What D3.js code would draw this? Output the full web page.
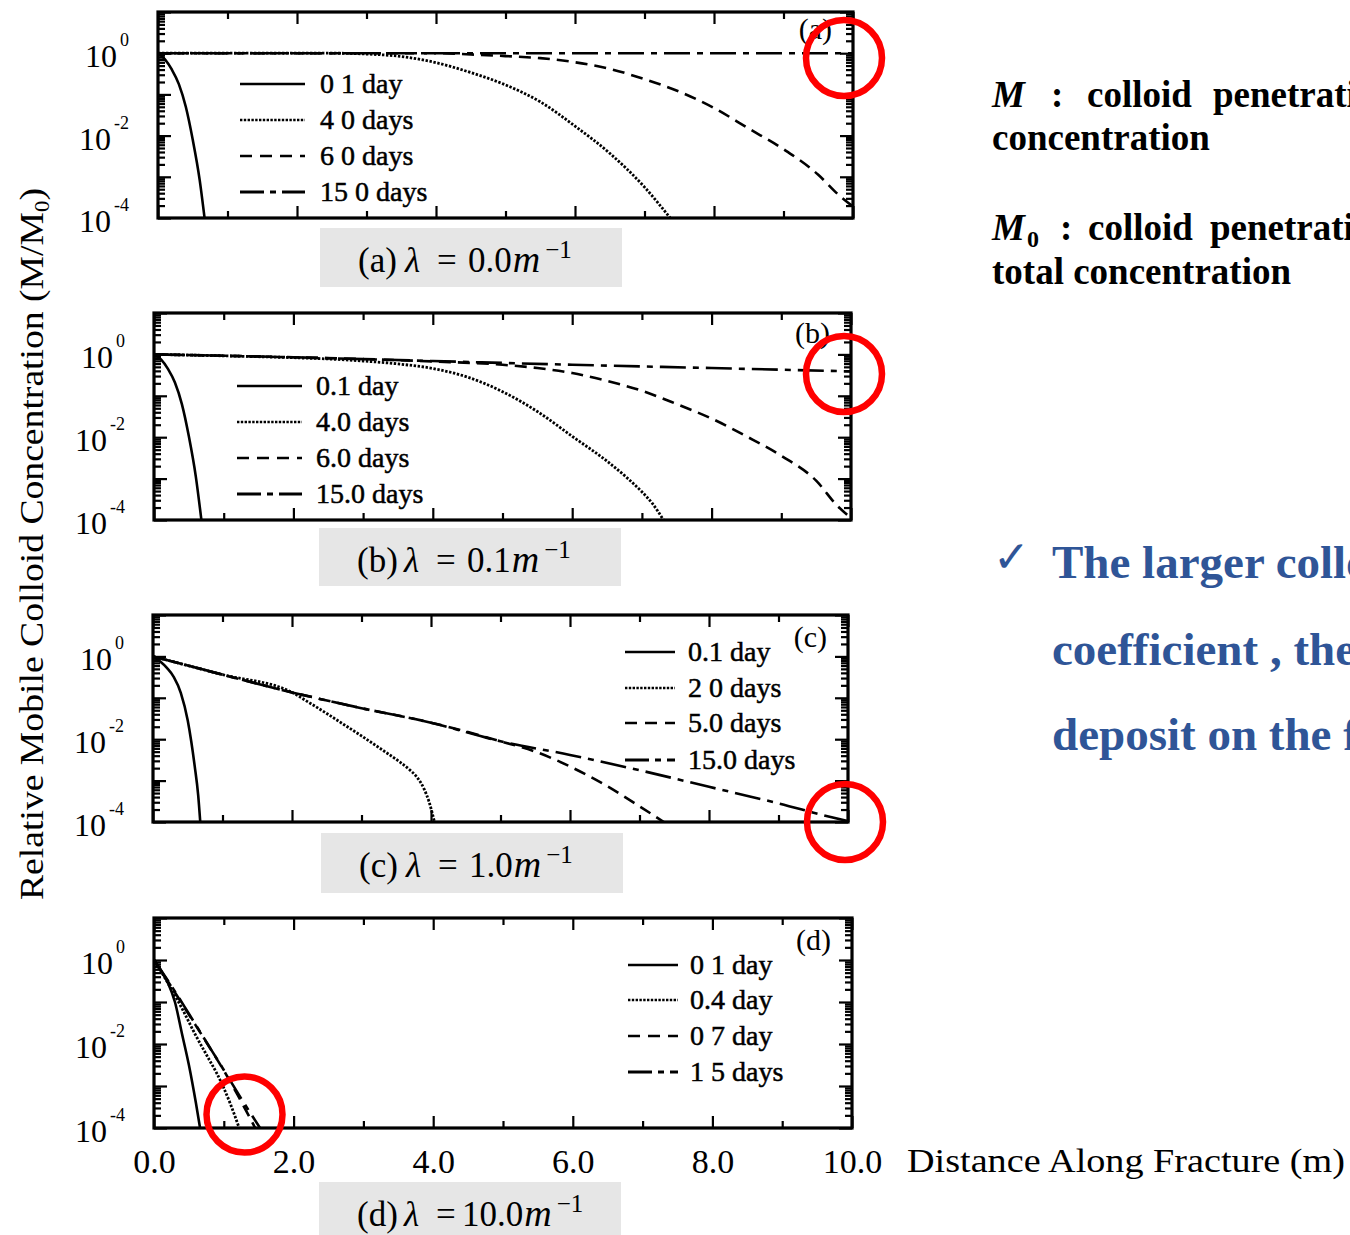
<!DOCTYPE html>
<html>
<head>
<meta charset="utf-8">
<script src="https://cdn.jsdelivr.net/npm/d3@7"></script>
<style>
  body { margin: 0; background: #fff; }
  svg { display: block; font-family: "Liberation Serif", "Times New Roman", serif; }
</style>
</head>
<body>
<svg id="fig" width="1350" height="1235"></svg>
<script>
// ---- data: relative mobile colloid concentration M/M0 vs distance along fracture (m) ----
const lambdaValues = ["0.0", "0.1", "1.0", "10.0"];
const panelLetters = ["a", "b", "c", "d"];

const legendA = ["0 1 day", "4 0 days", "6 0 days", "15 0 days"];
const legendB = ["0.1 day", "4.0 days", "6.0 days", "15.0 days"];
const legendC = ["0.1 day", "2 0 days", "5.0 days", "15.0 days"];
const legendD = ["0 1 day", "0.4 day", "0 7 day", "1 5 days"];

// lambda = 0.0 m^-1
const a_day01 = [[0,1],[0.1,0.708],[0.2,0.398],[0.3,0.178],[0.4,0.0501],[0.5,0.00794],[0.6,0.000832],[0.67,0.0001]];
const a_day40 = [[0,1],[2.5,1],[3,0.955],[3.5,0.832],[4,0.589],[4.5,0.339],[5,0.170],[5.5,0.0661],[6,0.0170],[6.5,0.00372],[7,0.000562],[7.37,0.0001]];
const a_day60 = [[0,1],[4,1],[4.5,0.933],[5,0.851],[5.5,0.759],[6,0.603],[6.5,0.417],[7,0.234],[7.5,0.117],[8,0.0468],[8.5,0.0148],[9,0.00468],[9.5,0.00112],[9.8,0.000355],[10,0.00019]];
const a_day150 = [[0,1],[10,1]];

// lambda = 0.1 m^-1
const b_day01 = [[0,1],[0.1,0.759],[0.2,0.447],[0.3,0.209],[0.4,0.0631],[0.5,0.0105],[0.6,0.00112],[0.68,0.0001]];
const b_day40 = [[0,1],[1,0.923],[2,0.832],[2.5,0.776],[3,0.692],[3.5,0.589],[4,0.457],[4.5,0.282],[5,0.126],[5.5,0.0417],[6,0.0105],[6.5,0.00263],[6.8,0.001],[7,0.000479],[7.15,0.000251],[7.31,0.0001]];
const b_day60 = [[0,1],[2,0.851],[4,0.676],[5,0.562],[5.5,0.468],[6,0.355],[6.5,0.229],[7,0.132],[7.5,0.0631],[8,0.0282],[8.5,0.0105],[9,0.00355],[9.5,0.000891],[9.8,0.000224],[10,0.000112]];
const b_day150 = [[0,1],[2,0.851],[4,0.692],[6,0.562],[8,0.468],[10,0.389]];

// lambda = 1.0 m^-1
const c_day01 = [[0,1],[0.1,0.759],[0.2,0.525],[0.3,0.316],[0.4,0.132],[0.5,0.0282],[0.55,0.00891],[0.6,0.00224],[0.65,0.000447],[0.68,0.0001]];
const c_day20 = [[0,1],[1,0.363],[2,0.135],[2.25,0.0759],[2.5,0.0417],[2.75,0.0224],[3,0.0120],[3.3,0.00550],[3.55,0.00282],[3.7,0.00178],[3.8,0.0012],[3.9,0.000631],[3.97,0.000316],[4.05,0.0001]];
const c_day50 = [[0,1],[1,0.363],[2,0.135],[3,0.0562],[4,0.0251],[5,0.00891],[5.5,0.00501],[6,0.00219],[6.5,0.000794],[7,0.00024],[7.35,0.0001]];
const c_day150 = [[0,1],[1,0.363],[2,0.135],[3,0.0562],[4,0.0251],[5,0.00891],[6,0.00417],[7,0.00178],[8,0.000708],[9,0.000282],[9.75,0.000132],[10,0.000105]];

// lambda = 10.0 m^-1
const d_day01 = [[0,1],[0.1,0.562],[0.2,0.282],[0.3,0.1],[0.4,0.0178],[0.5,0.00316],[0.6,0.000398],[0.66,0.0001]];
const d_day04 = [[0,1],[0.2,0.282],[0.4,0.0708],[0.6,0.0158],[0.8,0.00398],[0.9,0.002],[1.0,0.000891],[1.1,0.000355],[1.22,0.0001]];
const d_day07 = [[0,1],[0.25,0.229],[0.5,0.0501],[0.75,0.011],[1.0,0.00234],[1.2,0.000603],[1.45,0.0001]];
const d_day15 = [[0,1],[0.25,0.24],[0.5,0.0525],[0.75,0.0112],[1.0,0.0024],[1.25,0.000501],[1.52,0.0001]];

const xTickValues = [0,1,2,3,4,5,6,7,8,9,10];
const xLabelValues = [0,2,4,6,8,10];
const yLabelValues = [1, 1e-2, 1e-4];
const yLabelExps = ["0", "-2", "-4"];

// ---- layout ----
const panelBoxes = [
  { left: 158, right: 853, top: 12,  bottom: 218, legX: 240, legLen: 65, legTextX: 320, legY: [84,120,156,192],   letterY: 39,   capX: 320, capY: 228,  capH: 59, valX: 148 },
  { left: 154, right: 851, top: 313, bottom: 520, legX: 237, legLen: 65, legTextX: 316, legY: [386,422,458,494], letterY: 343,  capX: 319, capY: 528,  capH: 58, valX: 148 },
  { left: 153, right: 848, top: 615, bottom: 822, legX: 625, legLen: 50, legTextX: 688, legY: [652,688,723,760], letterY: 647,  capX: 321, capY: 833,  capH: 60, valX: 148 },
  { left: 154, right: 852, top: 918, bottom: 1128, legX: 628, legLen: 50, legTextX: 690, legY: [965,1000,1036,1072], letterY: 950, capX: 319, capY: 1182, capH: 53, valX: 143 }
];
const panelSeries = [
  [a_day01, a_day40, a_day60, a_day150],
  [b_day01, b_day40, b_day60, b_day150],
  [c_day01, c_day20, c_day50, c_day150],
  [d_day01, d_day04, d_day07, d_day15]
];
const panelLegends = [legendA, legendB, legendC, legendD];

// stroke patterns: solid, dotted, dashed, dash-dot
const lineDash = [null, "2.4,1.6", "12,7", "26,7,6,7"];
const legendDash = [null, "2.4,1.4", "12,8", "24,6,6,6"];
const lineWidth = [2.6, 2.8, 2.6, 2.6];

const svg = d3.select("#fig");
const defs = svg.append("defs");

// log-scale minor tick positions between 1e-4 and 1e1
const minorTicks = [];
for (let e = -4; e <= 0; e++) for (let k = 2; k <= 9; k++) minorTicks.push(k * Math.pow(10, e));
const majorTicks = [1e-4, 1e-3, 1e-2, 1e-1, 1, 10];

panelBoxes.forEach((p, i) => {
  const x = d3.scaleLinear().domain([0, 10]).range([p.left, p.right]);
  const y = d3.scaleLog().domain([1e-4, 10]).range([p.bottom, p.top]);
  const g = svg.append("g");

  const clipId = "clip" + i;
  defs.append("clipPath").attr("id", clipId)
    .append("rect").attr("x", p.left).attr("y", p.top)
    .attr("width", p.right - p.left).attr("height", p.bottom - p.top);

  // inward ticks on all four sides
  const tickStyle = sel => {
    sel.select(".domain").remove();
    sel.selectAll(".tick line").attr("stroke", "#000").attr("stroke-width", 2.2);
    sel.selectAll(".tick text").remove();
  };
  const xMajor = xTickValues.filter(v => v % 2 === 0);
  const xMinor = xTickValues.filter(v => v % 2 === 1);
  g.append("g").attr("transform", `translate(0,${p.bottom})`)
    .call(d3.axisBottom(x).tickValues(xMajor).tickSize(-12)).call(tickStyle);
  g.append("g").attr("transform", `translate(0,${p.bottom})`)
    .call(d3.axisBottom(x).tickValues(xMinor).tickSize(-7)).call(tickStyle);
  g.append("g").attr("transform", `translate(0,${p.top})`)
    .call(d3.axisTop(x).tickValues(xMajor).tickSize(-12)).call(tickStyle);
  g.append("g").attr("transform", `translate(0,${p.top})`)
    .call(d3.axisTop(x).tickValues(xMinor).tickSize(-7)).call(tickStyle);
  g.append("g").attr("transform", `translate(${p.left},0)`)
    .call(d3.axisLeft(y).tickValues(majorTicks).tickSize(-13)).call(tickStyle);
  g.append("g").attr("transform", `translate(${p.left},0)`)
    .call(d3.axisLeft(y).tickValues(minorTicks).tickSize(-7)).call(tickStyle);
  g.append("g").attr("transform", `translate(${p.right},0)`)
    .call(d3.axisRight(y).tickValues(majorTicks).tickSize(-13)).call(tickStyle);
  g.append("g").attr("transform", `translate(${p.right},0)`)
    .call(d3.axisRight(y).tickValues(minorTicks).tickSize(-7)).call(tickStyle);

  // frame
  g.append("rect").attr("x", p.left).attr("y", p.top)
    .attr("width", p.right - p.left).attr("height", p.bottom - p.top)
    .attr("fill", "none").attr("stroke", "#000").attr("stroke-width", 3.2);

  // y tick labels 10^n
  yLabelValues.forEach((v, k) => {
    const t = g.append("text").attr("x", p.left - 29).attr("y", y(v) + 14)
      .attr("text-anchor", "end").attr("font-size", 32).attr("fill", "#000");
    t.append("tspan").text("10");
    t.append("tspan").attr("dx", 3).attr("dy", -21).attr("font-size", 18).text(yLabelExps[k]);
  });

  // curves
  const line = d3.line().x(d => x(d[0])).y(d => y(d[1])).curve(d3.curveMonotoneX);
  const cg = g.append("g").attr("clip-path", `url(#${clipId})`);
  panelSeries[i].forEach((s, k) => {
    cg.append("path").datum(s).attr("d", line)
      .attr("fill", "none").attr("stroke", "#000")
      .attr("stroke-width", lineWidth[k])
      .attr("stroke-dasharray", lineDash[k]);
  });

  // legend
  panelLegends[i].forEach((name, k) => {
    const ly = p.legY[k];
    g.append("line").attr("x1", p.legX).attr("x2", p.legX + p.legLen)
      .attr("y1", ly).attr("y2", ly)
      .attr("stroke", "#000").attr("stroke-width", k === 3 ? 3 : 2.6)
      .attr("stroke-dasharray", legendDash[k]);
    g.append("text").attr("x", p.legTextX).attr("y", ly + 9)
      .attr("font-size", 28).attr("fill", "#000")
      .attr("stroke", "#000").attr("stroke-width", 0.5)
      .text(name);
  });

  // panel letter
  g.append("text").attr("x", p.right - 21).attr("y", p.letterY)
    .attr("text-anchor", "end").attr("font-size", 30).attr("fill", "#000")
    .text(`(${panelLetters[i]})`);

  // caption box
  g.append("rect").attr("x", p.capX).attr("y", p.capY)
    .attr("width", 302).attr("height", p.capH).attr("fill", "#e6e6e6");
  const cap = g.append("text").attr("y", p.capY + 44)
    .attr("font-size", 35).attr("fill", "#000");
  cap.append("tspan").attr("x", p.capX + 38).text(`(${panelLetters[i]})`);
  cap.append("tspan").attr("x", p.capX + 85).attr("font-style", "italic").text("λ");
  cap.append("tspan").attr("x", p.capX + 117).text("=");
  cap.append("tspan").attr("x", p.capX + p.valX).text(lambdaValues[i]);
  cap.append("tspan").attr("font-style", "italic").attr("font-size", 38).attr("dx", 1).text("m");
  cap.append("tspan").attr("dx", 5).attr("dy", -14).attr("font-size", 25).text("−1");

  // distance labels on the bottom panel only
  if (i === 3) {
    const xa = g.append("g").attr("transform", `translate(0,${p.bottom})`)
      .call(d3.axisBottom(x).tickValues(xLabelValues).tickSize(0).tickPadding(21)
        .tickFormat(d3.format(".1f")));
    xa.select(".domain").remove();
    xa.selectAll("text").attr("font-size", 34).attr("fill", "#000")
      .attr("font-family", "Liberation Serif, serif");
  }
});

// axis titles
svg.append("text")
  .attr("transform", "translate(43,544) rotate(-90)")
  .attr("text-anchor", "middle").attr("font-size", 33).attr("fill", "#000")
  .attr("textLength", 712).attr("lengthAdjust", "spacingAndGlyphs")
  .call(t => {
    t.append("tspan").text("Relative Mobile Colloid Concentration (M/M");
    t.append("tspan").attr("font-size", 20).attr("dy", 6).text("0");
    t.append("tspan").attr("dy", -6).text(")");
  });

svg.append("text").attr("x", 907).attr("y", 1172)
  .attr("font-size", 33).attr("fill", "#000")
  .attr("textLength", 438).attr("lengthAdjust", "spacingAndGlyphs")
  .text("Distance Along Fracture (m)");

// red highlight rings
const rings = [[844, 58], [844, 374], [845, 822], [244.5, 1114.5]];
svg.append("g").selectAll("circle").data(rings).join("circle")
  .attr("cx", d => d[0]).attr("cy", d => d[1]).attr("r", 38)
  .attr("fill", "none").attr("stroke", "#ff0000").attr("stroke-width", 6.5);

// definitions text
const defsText = svg.append("g").attr("font-weight", "bold").attr("font-size", 37).attr("fill", "#000");
defsText.append("text").attr("x", 992).attr("y", 107).attr("font-style", "italic").text("M");
defsText.append("text").attr("x", 1051).attr("y", 107).text(":");
defsText.append("text").attr("x", 1087).attr("y", 107).text("colloid");
defsText.append("text").attr("x", 1213).attr("y", 107).text("penetration");
defsText.append("text").attr("x", 992).attr("y", 150).text("concentration");
defsText.append("text").attr("x", 992).attr("y", 240)
  .call(t => {
    t.append("tspan").attr("font-style", "italic").text("M");
    t.append("tspan").attr("dx", 2).attr("dy", 7).attr("font-size", 24).text("0");
  });
defsText.append("text").attr("x", 1060).attr("y", 240).text(":");
defsText.append("text").attr("x", 1088).attr("y", 240).text("colloid");
defsText.append("text").attr("x", 1210).attr("y", 240).text("penetration");
defsText.append("text").attr("x", 992).attr("y", 284).text("total concentration");

// conclusion text
const blue = "#2f5597";
svg.append("text").attr("x", 993).attr("y", 572).attr("font-size", 44)
  .attr("font-family", "DejaVu Sans, sans-serif").attr("fill", blue).text("✓");
const concl = svg.append("g").attr("font-weight", "bold").attr("font-size", 47).attr("fill", blue);
concl.append("text").attr("x", 1052).attr("y", 578).text("The larger colloid filtration");
concl.append("text").attr("x", 1052).attr("y", 665).text("coefficient , the more");
concl.append("text").attr("x", 1052).attr("y", 750).text("deposit on the fracture");
</script>
</body>
</html>
